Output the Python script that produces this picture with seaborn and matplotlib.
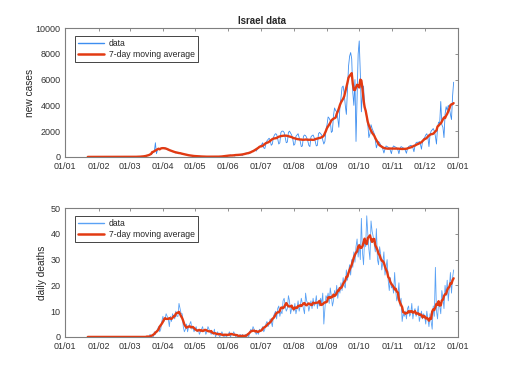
import pandas as pd
import seaborn as sns
import matplotlib.pyplot as plt
import matplotlib.dates as mdates

# daily values from 2020-01-22 to 2020-12-28
start_date = '2020-01-22'

cases_jan = [0] * 10
cases_feb = [0] * 20 + [1, 0, 0, 0, 1, 0, 2, 1, 0]
cases_mar = [2, 1, 3, 5, 4, 6, 7, 8, 11, 14, 19, 22, 34, 42, 54, 48, 90, 110, 130, 200,
             180, 260, 330, 420, 1100, 250, 560, 600, 600, 650, 700]
cases_apr = [740, 700, 720, 650, 560, 540, 580, 500, 470, 400, 430, 350, 300, 330, 360,
             320, 290, 250, 230, 250, 200, 170, 180, 140, 120, 110, 90, 100, 80, 70]
cases_may = [60, 50, 40, 45, 55, 40, 30, 25, 20, 15, 12, 10, 15, 20, 25, 18, 15, 10, 12,
             15, 20, 25, 18, 12, 20, 30, 40, 50, 80, 90, 60]
cases_jun = [120, 80, 150, 110, 140, 100, 70, 150, 180, 200, 190, 140, 150, 110, 200, 260,
             280, 300, 270, 240, 280, 350, 420, 480, 520, 600, 450, 600, 720, 800]
cases_jul = [850, 950, 1100, 700, 650, 1000, 1250, 1350, 1450, 1300, 900, 1000, 1500, 1700,
             1800, 1750, 1400, 1000, 1100, 1900, 2000, 2000, 1900, 1500, 1100, 1150, 1900,
             2000, 1850, 1700, 1400]
cases_aug = [900, 1000, 1600, 1700, 1800, 1500, 1200, 800, 850, 1600, 1700, 1650, 1500,
             1250, 900, 800, 1550, 1650, 1700, 1500, 1200, 850, 900, 1800, 1900, 1800, 1700,
             1300, 1000, 1200, 2100]
cases_sep = [2500, 3100, 3000, 2800, 1900, 2000, 3200, 3800, 3600, 3500, 3000, 2300, 3900,
             4600, 5400, 5500, 4900, 4000, 3300, 5200, 7000, 7800, 8100, 7600, 5000, 4000,
             6000, 1200, 4500, 8000]
cases_oct = [9000, 6500, 3500, 5000, 5500, 4000, 3600, 3000, 2500, 1500, 1800, 2500, 2200,
             2000, 1800, 1300, 700, 1000, 1200, 1100, 900, 800, 600, 300, 600, 850, 800,
             750, 700, 500, 250]
cases_nov = [700, 850, 800, 750, 700, 550, 250, 650, 800, 750, 700, 650, 500, 280, 650, 800,
             850, 900, 850, 700, 400, 900, 1100, 1150, 1100, 1200, 1000, 600, 1200, 1400]
cases_dec = [1500, 1700, 1800, 1500, 800, 1700, 2000, 2100, 2200, 2000, 1600, 1000, 2300,
             2700, 2600, 4300, 2500, 2300, 1500, 3300, 3900, 3600, 4000, 3800, 3300, 2900,
             4700, 5800]

deaths_jan = [0] * 10
deaths_feb = [0] * 29
deaths_mar = [0] * 19 + [1, 0, 0, 0, 2, 1, 2, 3, 4, 2, 3, 6]
deaths_apr = [8, 6, 7, 9, 8, 7, 4, 8, 6, 9, 8, 7, 10, 8, 8, 13, 11, 9, 9, 4, 2, 3, 5, 2,
              4, 5, 6, 3, 4, 2]
deaths_may = [3, 4, 2, 3, 1, 2, 3, 4, 2, 3, 1, 2, 4, 3, 2, 1, 2, 1, 3, 0, 1, 2, 1, 0, 1,
              2, 1, 0, 1, 0, 1]
deaths_jun = [1, 2, 0, 1, 1, 2, 1, 0, 1, 0, 0, 1, 0, 1, 0, 0, 1, 0, 1, 0, 2, 3, 2, 4, 3,
              2, 1, 2, 1, 3]
deaths_jul = [2, 3, 4, 2, 3, 5, 6, 4, 5, 7, 6, 4, 8, 9, 10, 7, 11, 12, 8, 10, 9, 14, 15,
              12, 10, 11, 16, 14, 9, 11, 12]
deaths_aug = [10, 13, 9, 11, 14, 10, 12, 15, 13, 11, 9, 17, 14, 13, 10, 12, 14, 11, 15, 12,
              13, 16, 11, 14, 12, 15, 13, 17, 5, 11, 16]
deaths_sep = [15, 17, 13, 19, 16, 12, 14, 18, 16, 20, 15, 19, 17, 21, 18, 23, 20, 19, 26,
              22, 25, 28, 24, 30, 27, 33, 29, 35, 38, 31]
deaths_oct = [36, 30, 46, 33, 28, 38, 35, 47, 40, 34, 30, 45, 41, 39, 36, 33, 42, 30, 28,
              35, 32, 26, 29, 33, 24, 27, 30, 22, 18, 23, 19]
deaths_nov = [20, 17, 25, 18, 14, 16, 21, 12, 15, 6, 9, 8, 10, 7, 11, 12, 8, 9, 13, 7, 10,
              11, 8, 9, 12, 6, 8, 10, 7, 9]
deaths_dec = [8, 5, 10, 7, 4, 9, 6, 3, 12, 8, 27, 10, 7, 14, 12, 9, 18, 15, 11, 20, 16, 22,
              14, 19, 25, 17, 23, 26]

cases = (cases_jan + cases_feb + cases_mar + cases_apr + cases_may + cases_jun + cases_jul
         + cases_aug + cases_sep + cases_oct + cases_nov + cases_dec)
deaths = (deaths_jan + deaths_feb + deaths_mar + deaths_apr + deaths_may + deaths_jun
          + deaths_jul + deaths_aug + deaths_sep + deaths_oct + deaths_nov + deaths_dec)

BLUE = '#3d8ef0'
RED = '#e23a12'
GRAY = '#7f7f7f'


def build_frame(values):
    df = pd.DataFrame({'date': pd.date_range(start_date, periods=len(values)),
                       'value': values})
    df['avg'] = df['value'].rolling(7, center=True, min_periods=1).mean()
    return df


def draw_panel(ax, df, ylabel, ymax, ystep, data_color, label_x):
    sns.lineplot(data=df, x='date', y='value', ax=ax, color=data_color, lw=0.6,
                 label='data')
    sns.lineplot(data=df, x='date', y='avg', ax=ax, color=RED, lw=1.7,
                 label='7-day moving average')
    ax.set_xlim(pd.Timestamp('2020-01-01'), pd.Timestamp('2021-01-01'))
    ax.set_ylim(0, ymax)
    ax.set_yticks(range(0, ymax + 1, ystep))
    ax.xaxis.set_major_locator(mdates.MonthLocator())
    ax.xaxis.set_major_formatter(mdates.DateFormatter('%d/%m'))
    ax.set_xlabel('')
    ax.set_ylabel(ylabel, fontsize=7.3, color='#262626')
    ax.yaxis.set_label_coords(label_x, 0.5)
    ax.tick_params(direction='in', length=2.5, width=0.6, top=True, right=True,
                   labelsize=6.5, colors='#333333', color=GRAY, pad=3.5)
    for s in ax.spines.values():
        s.set_color(GRAY)
        s.set_linewidth(0.8)
    leg = ax.legend(loc='upper left', bbox_to_anchor=(0.013, 0.975), fontsize=6.2,
                    handlelength=3.0, handletextpad=0.6, borderpad=0.35,
                    labelspacing=0.25, fancybox=False, framealpha=1)
    leg.get_frame().set_edgecolor('#262626')
    leg.get_frame().set_linewidth(0.6)
    leg.get_lines()[0].set_linewidth(1.0)
    leg.get_lines()[1].set_linewidth(1.8)
    for t in leg.get_texts():
        t.set_color('#262626')


def main():
    sns.set_style('white')
    plt.rcParams['font.family'] = ['Liberation Sans', 'DejaVu Sans']

    fig = plt.figure(figsize=(5.06, 3.79), dpi=100)
    ax1 = fig.add_axes([0.129, 0.586, 0.776, 0.340])
    ax2 = fig.add_axes([0.129, 0.111, 0.776, 0.340])

    draw_panel(ax1, build_frame(cases), 'new cases', 10000, 2000, BLUE, -0.078)
    draw_panel(ax2, build_frame(deaths), 'daily deaths', 50, 10, '#5aa2f5', -0.047)
    ax1.set_title('Israel data', fontsize=7, fontweight='bold', pad=3)

    fig.savefig('out.png', dpi=100)


if __name__ == "__main__":
    main()
